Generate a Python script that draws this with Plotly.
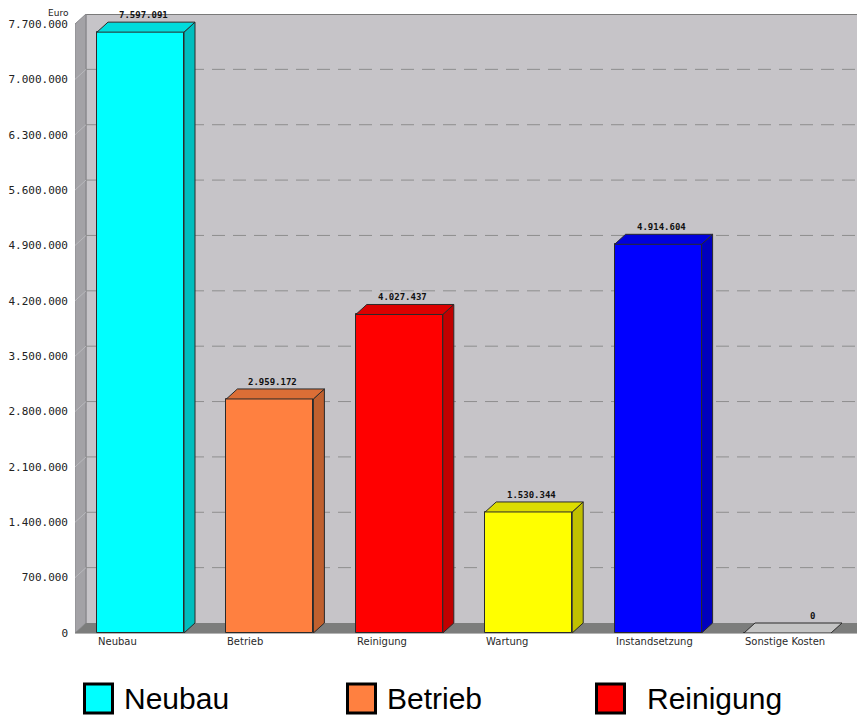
import plotly.graph_objects as go

# Kostenkategorien und Werte (Euro)
categories = ["Neubau", "Betrieb", "Reinigung", "Wartung", "Instandsetzung", "Sonstige Kosten"]
values = [7597091, 2959172, 4027437, 1530344, 4914604, 0]
front_colors = ["#00FFFF", "#FF8040", "#FF0000", "#FFFF00", "#0000FF", "#C0C0C0"]
side_colors = ["#00BEBE", "#C0602E", "#C00000", "#C0C000", "#0000BE", "#909090"]
top_colors = ["#00DCDC", "#DC6E36", "#DC0000", "#DCDC00", "#0000DC", "#C4C4C4"]
tick_values = [i * 700000 for i in range(12)]
legend_labels = ["Neubau", "Betrieb", "Reinigung"]
legend_colors = ["#00FFFF", "#FF8040", "#FF0000"]


def de(v):
    return f"{v:,}".replace(",", ".")


# Geometrie der Pseudo-3D-Darstellung
W, H = 857, 718
ML, MR, MT, MB = 75, 0, 14, 85
PX_PER_CAT = 129.4
PX_PER_UNIT = 55.36 / 700000
BAR_W = 87 / PX_PER_CAT
DEPTH_X_PX, DEPTH_Y_PX = 11, 10
DX = DEPTH_X_PX / PX_PER_CAT
DY = DEPTH_Y_PX / PX_PER_UNIT
X0 = -(140.5 - ML) / PX_PER_CAT
X1 = X0 + (W - ML - MR) / PX_PER_CAT
YTOP = tick_values[-1] + DY

plot_w = W - ML - MR
plot_h = H - MT - MB


def paper_x(px):
    return (px - ML) / plot_w


def paper_y(py):
    return (H - MB - py) / plot_h


PANEL = "#C6C4C8"
WALL = "#A3A2A6"
FLOOR = "#7C7D7C"
GRID = "#8E8E8E"
EDGE = "#2A2A2A"

fig = go.Figure()
shapes = []

# Rückwand, Seitenwand und Boden
shapes.append(dict(type="rect", xref="x", yref="y", x0=X0 + DX, x1=X1, y0=DY, y1=YTOP,
                   fillcolor=PANEL, line=dict(width=0), layer="below"))
shapes.append(dict(type="path", xref="x", yref="y",
                   path=f"M {X0},0 L {X0},{tick_values[-1]} L {X0+DX},{YTOP} L {X0+DX},{DY} Z",
                   fillcolor=WALL, line=dict(color="#8A8A8E", width=1), layer="below"))
shapes.append(dict(type="path", xref="x", yref="y",
                   path=f"M {X0},0 L {X0+DX},{DY} L {X1},{DY} L {X1},0 Z",
                   fillcolor=FLOOR, line=dict(width=0), layer="below"))
shapes.append(dict(type="line", xref="x", yref="y", x0=X0 + DX, x1=X1, y0=YTOP, y1=YTOP,
                   line=dict(color="#7A7A7A", width=2), layer="below"))
shapes.append(dict(type="line", xref="x", yref="y", x0=X0 + DX, x1=X0 + DX, y0=DY, y1=YTOP,
                   line=dict(color="#8A8A8E", width=1), layer="below"))

# Hilfslinien an der Rückwand und schräg über die Seitenwand
for v in tick_values[1:-1]:
    shapes.append(dict(type="line", xref="x", yref="y", x0=X0 + DX, x1=X1, y0=v + DY, y1=v + DY,
                       line=dict(color=GRID, width=1, dash="13px,8px"), layer="below"))
    shapes.append(dict(type="line", xref="x", yref="y", x0=X0, x1=X0 + DX, y0=v, y1=v + DY,
                       line=dict(color="#B8B8BC", width=1), layer="below"))

xs = list(range(len(categories)))

# Seiten- und Deckflächen der Säulen
for i, (v, sc, tc) in enumerate(zip(values, side_colors, top_colors)):
    l, r = i - BAR_W / 2, i + BAR_W / 2
    if v > 0:
        fig.add_trace(go.Scatter(
            x=[r, r + DX, r + DX, r, r], y=[0, DY, v + DY, v, 0],
            mode="lines", fill="toself", fillcolor=sc,
            line=dict(color=EDGE, width=1), hoverinfo="skip", showlegend=False))
    fig.add_trace(go.Scatter(
        x=[l, l + DX, r + DX, r, l], y=[v, v + DY, v + DY, v, v],
        mode="lines", fill="toself", fillcolor=tc,
        line=dict(color=EDGE, width=1), hoverinfo="skip", showlegend=False))

# Vorderflächen
fig.add_trace(go.Bar(
    x=xs, y=values, width=BAR_W,
    marker=dict(color=front_colors, line=dict(color=EDGE, width=1)),
    hoverinfo="skip", showlegend=False))

annotations = []

# Wertbeschriftungen
for i, v in enumerate(values):
    annotations.append(dict(
        x=i + BAR_W / 2, y=v + DY, xref="x", yref="y", xanchor="right", yanchor="bottom",
        xshift=-14, yshift=0, text=de(v), showarrow=False,
        font=dict(family="DejaVu Sans Mono", size=9, color="#111111", weight="bold")))

# Kategorienbeschriftungen (linksbündig an der Säule)
for i, c in enumerate(categories):
    annotations.append(dict(
        x=i - BAR_W / 2, y=0, xref="x", yref="y", xanchor="left", yanchor="top",
        xshift=-1, yshift=-1, text=c, showarrow=False,
        font=dict(family="DejaVu Sans", size=10, color="#2A2A2A")))

# Achsentitel
annotations.append(dict(x=paper_x(46), y=paper_y(13), xref="paper", yref="paper",
                        xanchor="left", yanchor="middle", text="Euro", showarrow=False,
                        font=dict(family="DejaVu Sans", size=9, color="#222222")))

# Legende
box_px = [83, 346, 595]
text_px = [122, 385, 645]
for lab, col, bx, tx in zip(legend_labels, legend_colors, box_px, text_px):
    shapes.append(dict(type="rect", xref="paper", yref="paper",
                       x0=paper_x(bx + 1.5), x1=paper_x(bx + 29.5),
                       y0=paper_y(713), y1=paper_y(684),
                       fillcolor=col, line=dict(color="#000000", width=3)))
    annotations.append(dict(x=paper_x(tx), y=paper_y(698), xref="paper", yref="paper",
                            xanchor="left", yanchor="middle", text=lab, showarrow=False,
                            font=dict(family="Liberation Sans", size=30, color="#000000")))

fig.update_layout(
    width=W, height=H, autosize=False,
    margin=dict(l=ML, r=MR, t=MT, b=MB, pad=0),
    paper_bgcolor="white", plot_bgcolor="white",
    shapes=shapes, annotations=annotations,
    bargap=0, showlegend=False,
    xaxis=dict(range=[X0, X1], showgrid=False, zeroline=False, showticklabels=False,
               showline=True, linecolor="#B4B4B4", linewidth=1, fixedrange=True),
    yaxis=dict(range=[0, YTOP], tickvals=tick_values, ticktext=[de(v) for v in tick_values],
               showgrid=False, zeroline=False, showline=False, ticks="",
               ticklabelstandoff=6,
               tickfont=dict(family="DejaVu Sans Mono", size=11, color="#222222"),
               fixedrange=True),
)

fig.write_html("out.html")
